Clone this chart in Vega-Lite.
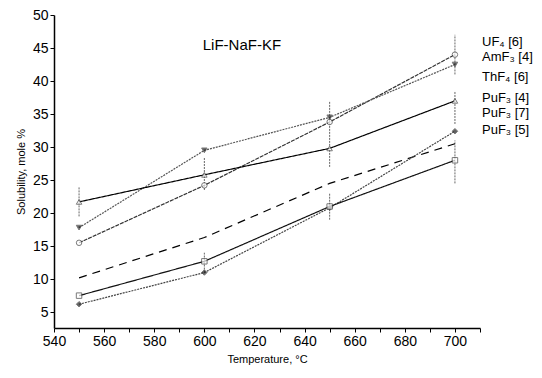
{
  "$schema": "https://vega.github.io/schema/vega-lite/v6.json",
  "width": 426,
  "height": 313,
  "autosize": "none",
  "padding": {"left": 54, "top": 15, "right": 62, "bottom": 50},
  "background": "white",
  "config": {
    "view": {"stroke": null},
    "font": "Liberation Sans",
    "axis": {"domainColor": "black", "tickColor": "black", "labelColor": "black", "titleColor": "black", "grid": false, "labelFont": "Liberation Sans", "titleFont": "Liberation Sans", "titleFontWeight": "normal", "labelOverlap": false}
  },
  "datasets": {
    "pts": [
      {"series": "UF4 [6]", "temp": 550, "value": 15.5},
      {"series": "UF4 [6]", "temp": 600, "value": 24.2},
      {"series": "UF4 [6]", "temp": 650, "value": 33.8, "lo": 32, "hi": 37},
      {"series": "UF4 [6]", "temp": 700, "value": 44, "lo": 41, "hi": 47},
      {"series": "AmF3 [4]", "temp": 550, "value": 17.8},
      {"series": "AmF3 [4]", "temp": 600, "value": 29.5},
      {"series": "AmF3 [4]", "temp": 650, "value": 34.5},
      {"series": "AmF3 [4]", "temp": 700, "value": 42.5},
      {"series": "ThF4 [6]", "temp": 550, "value": 21.7, "lo": 19.5, "hi": 24},
      {"series": "ThF4 [6]", "temp": 600, "value": 25.8, "lo": 23.5, "hi": 28.5},
      {"series": "ThF4 [6]", "temp": 650, "value": 29.8, "lo": 27, "hi": 32},
      {"series": "ThF4 [6]", "temp": 700, "value": 37, "lo": 33.5, "hi": 38.5},
      {"series": "PuF3 [4]", "temp": 550, "value": 10.2},
      {"series": "PuF3 [4]", "temp": 600, "value": 16.3},
      {"series": "PuF3 [4]", "temp": 650, "value": 24.5},
      {"series": "PuF3 [4]", "temp": 700, "value": 30.5},
      {"series": "PuF3 [7]", "temp": 550, "value": 6.2},
      {"series": "PuF3 [7]", "temp": 600, "value": 11},
      {"series": "PuF3 [7]", "temp": 650, "value": 20.8},
      {"series": "PuF3 [7]", "temp": 700, "value": 32.4},
      {"series": "PuF3 [5]", "temp": 550, "value": 7.5},
      {"series": "PuF3 [5]", "temp": 600, "value": 12.7, "lo": 11, "hi": 14},
      {"series": "PuF3 [5]", "temp": 650, "value": 21, "lo": 19, "hi": 23},
      {"series": "PuF3 [5]", "temp": 700, "value": 28, "lo": 24.5, "hi": 31}
    ],
    "labels": [
      {"label": "UF₄  [6]", "temp": 710, "value": 45.9},
      {"label": "AmF₃ [4]", "temp": 710, "value": 43.6},
      {"label": "ThF₄  [6]", "temp": 710, "value": 40.6},
      {"label": "PuF₃  [4]", "temp": 710, "value": 37.4},
      {"label": "PuF₃  [7]", "temp": 710, "value": 35.1},
      {"label": "PuF₃  [5]", "temp": 710, "value": 32.6}
    ],
    "title": [
      {"label": "LiF-NaF-KF", "temp": 615, "value": 45.5}
    ]
  },
  "encoding": {
    "x": {
      "field": "temp", "type": "quantitative",
      "scale": {"domain": [540, 710], "nice": false, "zero": false},
      "axis": {"title": "Temperature, °C", "values": [540, 550, 560, 570, 580, 590, 600, 610, 620, 630, 640, 650, 660, 670, 680, 690, 700, 710], "labelExpr": "datum.value % 20 == 0 && datum.value <= 700 ? datum.label : ''", "labelFontSize": 14, "titleFontSize": 11, "tickSize": 4, "labelPadding": 2, "titlePadding": 5, "domainWidth": 1.5, "labelFlush": false, "labelOverlap": false}
    },
    "y": {
      "field": "value", "type": "quantitative",
      "scale": {"domain": [2.6, 50], "nice": false, "zero": false},
      "axis": {"title": "Solubility, mole %", "values": [5, 10, 15, 20, 25, 30, 35, 40, 45, 50], "labelFontSize": 14, "titleFontSize": 11, "tickSize": 4, "labelPadding": 2, "titlePadding": 6, "domainWidth": 1.5, "labelOverlap": false, "labelFlush": false}
    }
  },
  "layer": [
    {
      "data": {"name": "pts"},
      "mark": {"type": "rule", "strokeWidth": 1, "strokeDash": [2, 1]},
      "encoding": {
        "y": {"field": "lo", "type": "quantitative"},
        "y2": {"field": "hi"},
        "color": {"value": "#666"}
      }
    },
    {
      "data": {"name": "pts"},
      "mark": {"type": "line"},
      "encoding": {
        "detail": {"field": "series"},
        "color": {"field": "series", "type": "nominal", "legend": null,
          "scale": {"domain": ["UF4 [6]", "AmF3 [4]", "ThF4 [6]", "PuF3 [4]", "PuF3 [7]", "PuF3 [5]"], "range": ["#333", "#555", "#000", "#000", "#444", "#111"]}},
        "strokeDash": {"field": "series", "type": "nominal", "legend": null,
          "scale": {"domain": ["UF4 [6]", "AmF3 [4]", "ThF4 [6]", "PuF3 [4]", "PuF3 [7]", "PuF3 [5]"], "range": [[4, 1], [2, 1], [1, 0], [8, 6], [2, 1], [1, 0]]}},
        "strokeWidth": {"field": "series", "type": "nominal", "legend": null,
          "scale": {"domain": ["UF4 [6]", "AmF3 [4]", "ThF4 [6]", "PuF3 [4]", "PuF3 [7]", "PuF3 [5]"], "range": [1.2, 1.2, 1.6, 2, 1.2, 1.4]}}
      }
    },
    {
      "data": {"name": "pts"},
      "transform": [{"filter": "datum.series !== 'PuF3 [4]'"}],
      "mark": {"type": "point", "filled": true, "size": 30, "strokeWidth": 1},
      "encoding": {
        "shape": {"field": "series", "type": "nominal", "legend": null,
          "scale": {"domain": ["UF4 [6]", "AmF3 [4]", "ThF4 [6]", "PuF3 [7]", "PuF3 [5]"], "range": ["circle", "triangle-down", "triangle-up", "diamond", "square"]}},
        "fill": {"field": "series", "type": "nominal", "legend": null,
          "scale": {"domain": ["UF4 [6]", "AmF3 [4]", "ThF4 [6]", "PuF3 [7]", "PuF3 [5]"], "range": ["white", "#222", "white", "#222", "white"]}},
        "stroke": {"value": "#444"}
      }
    },
    {
      "data": {"name": "labels"},
      "mark": {"type": "text", "align": "left", "baseline": "middle", "fontSize": 13, "dx": 2, "clip": false},
      "encoding": {
        "text": {"field": "label"},
        "color": {"value": "black"}
      }
    },
    {
      "data": {"name": "title"},
      "mark": {"type": "text", "align": "center", "baseline": "middle", "fontSize": 15},
      "encoding": {
        "text": {"field": "label"},
        "color": {"value": "black"}
      }
    }
  ]
}
